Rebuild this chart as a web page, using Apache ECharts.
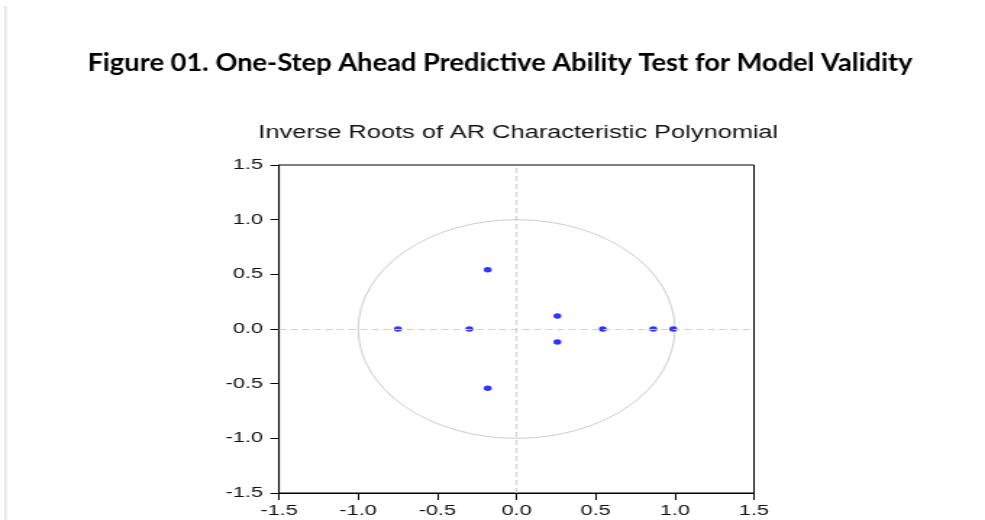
<!DOCTYPE html>
<html>
<head>
<meta charset="utf-8">
<script src="https://cdn.jsdelivr.net/npm/echarts@6/dist/echarts.min.js"></script>
<style>
html,body{margin:0;padding:0;background:#fff;overflow:hidden;width:985px;height:520px;}
#wrap{width:985px;height:520px;overflow:hidden;}
#chart{width:680px;height:520px;transform-origin:0 0;}
</style>
</head>
<body>
<div id="wrap"><div id="chart"></div></div>
<script>
// ---- data ----
var mainTitle = 'Figure 01. One-Step Ahead Predictive Ability Test for Model Validity';
var chartTitle = 'Inverse Roots of AR Characteristic Polynomial';
var rootsReal = [-0.749, -0.298, -0.182, -0.182, 0.258, 0.258, 0.545, 0.864, 0.990];
var rootsImag = [0.000, 0.000, 0.543, -0.543, 0.118, -0.118, 0.000, 0.000, 0.000];
var unitCircle = [[0, 0, 1]]; // centre x, centre y, radius
var axisMin = -1.5, axisMax = 1.5, axisStep = 0.5;

// ---- layout (canvas is stretched horizontally, like the EViews picture) ----
var W = 680, S = 985 / W;
var el = document.getElementById('chart');
el.style.transform = 'scaleX(' + S + ')';
var chart = echarts.init(el, null, {renderer: 'canvas', width: W, height: 520});

var points = rootsReal.map(function (r, i) { return [r, rootsImag[i]]; });
var labelFont = {color: '#111', fontSize: 15, fontFamily: 'Liberation Sans, Arial, sans-serif'};

chart.setOption({
  animation: false,
  backgroundColor: '#fff',
  title: [{
    text: chartTitle,
    left: 511 / S,
    top: 119,
    textAlign: 'center',
    textStyle: {color: '#111', fontSize: 17.5, fontWeight: 'normal', fontFamily: 'Liberation Sans, Arial, sans-serif'}
  }],
  graphic: [
    {
      type: 'text', x: 500 / S, y: 63, scaleX: 1.136 / S, silent: true,
      style: {text: mainTitle, fill: '#000', font: 'bold 24px Lato, "Open Sans", sans-serif',
        textAlign: 'center', textVerticalAlign: 'middle'}
    },
    {
      type: 'line', silent: true,
      shape: {x1: 5.5 / S, y1: 6, x2: 5.5 / S, y2: 520},
      style: {stroke: '#d8d8d8', lineWidth: 1}
    }
  ],
  grid: {
    left: 279 / S, top: 165, width: 475 / S, height: 328,
    show: true, borderColor: '#000', borderWidth: 1, backgroundColor: 'transparent'
  },
  xAxis: {
    type: 'value', min: axisMin, max: axisMax, interval: axisStep,
    axisLine: {show: true, onZero: false, lineStyle: {color: '#000', width: 1}},
    axisTick: {show: true, length: 7, lineStyle: {color: '#000'}},
    splitLine: {show: false},
    axisLabel: Object.assign({margin: 10, formatter: function (v) { return v.toFixed(1); }}, labelFont)
  },
  yAxis: {
    type: 'value', min: axisMin, max: axisMax, interval: axisStep,
    axisLine: {show: true, onZero: false, lineStyle: {color: '#000', width: 1}},
    axisTick: {show: true, length: 6, lineStyle: {color: '#000'}},
    splitLine: {show: false},
    axisLabel: Object.assign({margin: 11, formatter: function (v) { return v.toFixed(1); }}, labelFont)
  },
  series: [
    {
      type: 'custom',
      data: unitCircle,
      silent: true,
      z: 1,
      renderItem: function (params, api) {
        var c = api.coord([api.value(0), api.value(1)]);
        var sz = api.size([api.value(2), api.value(2)]);
        var rx = sz[0], ry = sz[1];
        var d = 'M' + (c[0] - rx) + ' ' + c[1] +
          ' A' + rx + ' ' + ry + ' 0 1 0 ' + (c[0] + rx) + ' ' + c[1] +
          ' A' + rx + ' ' + ry + ' 0 1 0 ' + (c[0] - rx) + ' ' + c[1] + ' Z';
        return {type: 'path', shape: {pathData: d}, style: {fill: 'none', stroke: '#cfcfcf', lineWidth: 1}};
      }
    },
    {
      type: 'scatter',
      data: points,
      symbol: 'circle',
      symbolSize: 5.5,
      z: 3,
      itemStyle: {color: '#0000ff'},
      markLine: {
        silent: true, symbol: 'none', label: {show: false},
        lineStyle: {color: '#d0d0d0', type: [5, 3], width: 1},
        data: [{xAxis: 0}, {yAxis: 0}]
      }
    }
  ]
});
</script>
</body>
</html>
